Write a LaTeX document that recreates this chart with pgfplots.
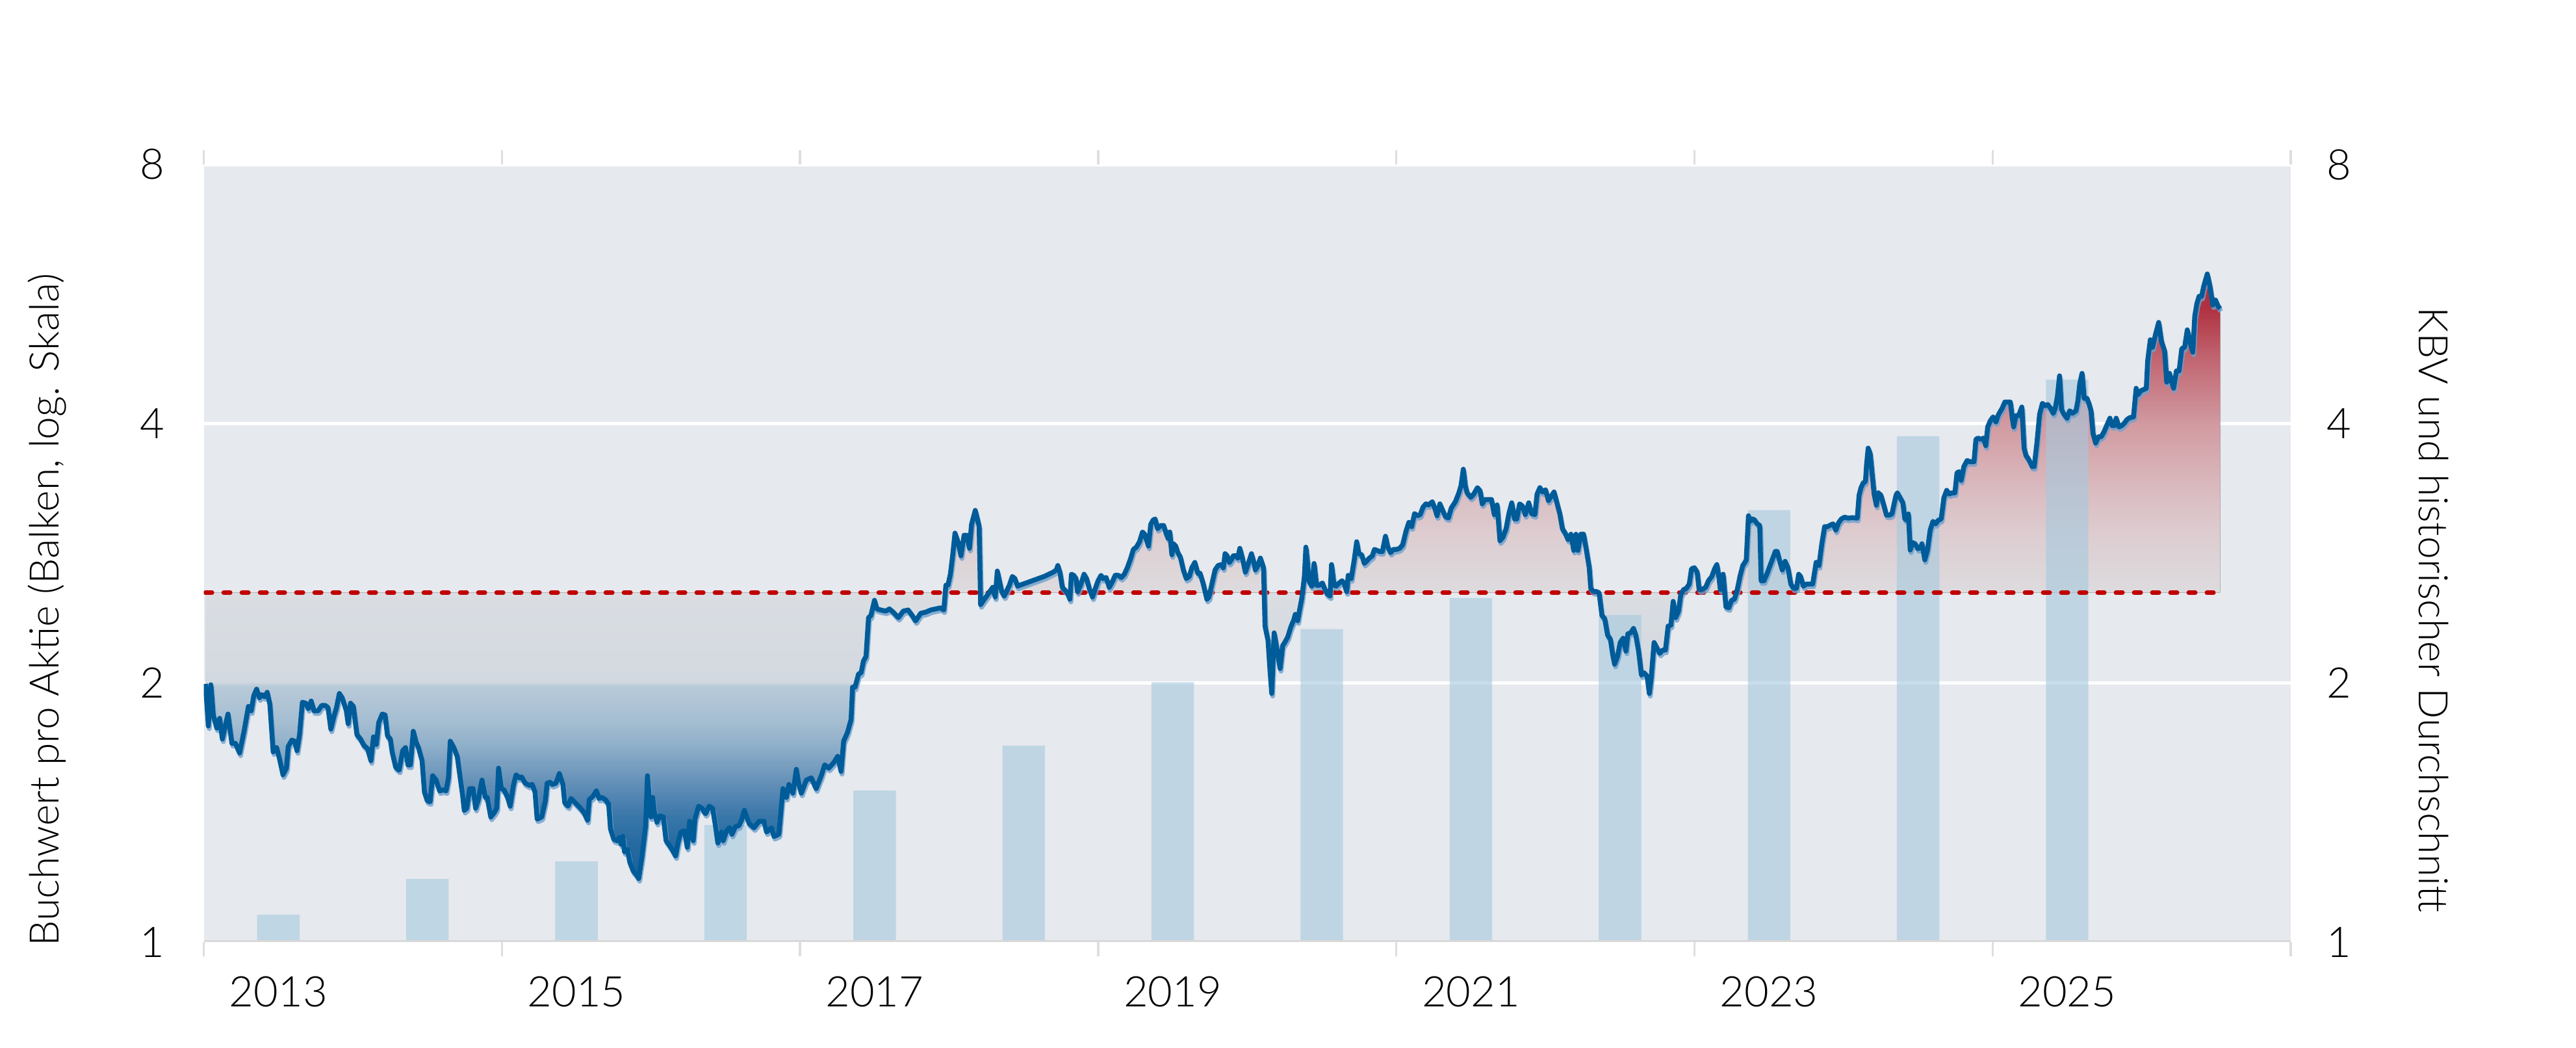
\documentclass[border=0pt]{standalone}
\usepackage{fontspec}
\setmainfont{Lato Light}
\usepackage{pgfplots}
\usepackage{pgfplotstable}
\pgfplotsset{compat=1.18}
\usepgfplotslibrary{fillbetween}

\definecolor{bgc}{RGB}{230,233,237}
\definecolor{barsolid}{RGB}{191,214,228}
\definecolor{barc}{RGB}{165,201,222}
\definecolor{linec}{RGB}{0,91,153}
\definecolor{shadowc}{RGB}{110,160,205}
\definecolor{avgc}{RGB}{192,0,0}
\definecolor{axgray}{RGB}{216,216,216}
\definecolor{tickgray}{RGB}{222,222,222}

\definecolor{s1}{RGB}{30,100,162}
\definecolor{s2}{RGB}{40,112,170}
\definecolor{s3}{RGB}{60,125,178}
\definecolor{s4}{RGB}{95,145,190}
\definecolor{s5}{RGB}{125,166,201}
\definecolor{s6}{RGB}{152,186,213}
\definecolor{s7}{RGB}{173,199,220}
\definecolor{s8}{RGB}{194,213,228}
\definecolor{s9}{RGB}{222,229,236}
\definecolor{s10}{RGB}{229,233,238}
\definecolor{s11}{RGB}{231,234,238}
\definecolor{r1}{RGB}{233,231,234}
\definecolor{r2}{RGB}{233,215,219}
\definecolor{r3}{RGB}{229,194,199}
\definecolor{r4}{RGB}{220,162,169}
\definecolor{r5}{RGB}{203,107,119}
\definecolor{r6}{RGB}{185,53,69}
\definecolor{r7}{RGB}{181,45,61}
\pgfdeclareverticalshading{kbvshade}{100bp}{color(0bp)=(s1); color(25bp)=(s1); color(27.86bp)=(s2); color(30.15bp)=(s3); color(32.29bp)=(s4); color(34.28bp)=(s5); color(36.15bp)=(s6); color(37.92bp)=(s7); color(40.9bp)=(s8); color(41.3bp)=(s9); color(48.08bp)=(s10); color(48.6bp)=(s11); color(48.7bp)=(r1); color(53.61bp)=(r2); color(57.68bp)=(r3); color(62.61bp)=(r4); color(67.99bp)=(r5); color(72.11bp)=(r6); color(75bp)=(r7); color(100bp)=(r7)}

\pgfplotstableread{
x y
2013.011 1.995
2013.030 1.782
2013.047 1.990
2013.063 1.835
2013.087 1.772
2013.106 1.819
2013.124 1.721
2013.162 1.840
2013.188 1.701
2013.212 1.701
2013.240 1.658
2013.271 1.762
2013.299 1.878
2013.318 1.856
2013.335 1.933
2013.354 1.967
2013.373 1.922
2013.389 1.938
2013.408 1.927
2013.425 1.950
2013.443 1.888
2013.465 1.663
2013.488 1.682
2013.507 1.634
2013.531 1.564
2013.554 1.592
2013.566 1.687
2013.590 1.716
2013.609 1.711
2013.625 1.668
2013.642 1.741
2013.661 1.899
2013.684 1.894
2013.701 1.867
2013.720 1.905
2013.739 1.856
2013.767 1.856
2013.791 1.883
2013.814 1.883
2013.833 1.872
2013.852 1.767
2013.873 1.829
2013.890 1.872
2013.909 1.944
2013.928 1.922
2013.956 1.856
2013.968 1.793
2013.984 1.894
2014.003 1.878
2014.027 1.741
2014.051 1.721
2014.074 1.692
2014.098 1.677
2014.121 1.624
2014.138 1.731
2014.157 1.696
2014.173 1.798
2014.197 1.840
2014.216 1.835
2014.232 1.736
2014.251 1.721
2014.263 1.663
2014.287 1.596
2014.310 1.583
2014.334 1.668
2014.353 1.682
2014.369 1.606
2014.386 1.606
2014.405 1.757
2014.424 1.706
2014.440 1.682
2014.464 1.624
2014.480 1.493
2014.499 1.459
2014.518 1.455
2014.535 1.560
2014.558 1.542
2014.582 1.498
2014.606 1.502
2014.625 1.498
2014.641 1.551
2014.653 1.711
2014.677 1.682
2014.700 1.643
2014.736 1.480
2014.747 1.422
2014.764 1.430
2014.783 1.507
2014.806 1.507
2014.823 1.430
2014.842 1.464
2014.866 1.542
2014.889 1.472
2014.901 1.472
2014.925 1.397
2014.948 1.413
2014.965 1.430
2014.977 1.592
2014.996 1.507
2015.014 1.502
2015.038 1.472
2015.055 1.438
2015.078 1.524
2015.095 1.564
2015.118 1.551
2015.132 1.555
2015.156 1.529
2015.185 1.520
2015.203 1.524
2015.222 1.493
2015.236 1.389
2015.267 1.397
2015.291 1.459
2015.303 1.529
2015.322 1.533
2015.338 1.524
2015.362 1.529
2015.385 1.569
2015.409 1.524
2015.421 1.451
2015.444 1.438
2015.463 1.468
2015.492 1.451
2015.527 1.430
2015.551 1.413
2015.574 1.385
2015.586 1.464
2015.610 1.476
2015.633 1.498
2015.652 1.468
2015.669 1.472
2015.692 1.464
2015.716 1.446
2015.728 1.353
2015.751 1.315
2015.775 1.311
2015.787 1.322
2015.799 1.299
2015.810 1.326
2015.822 1.273
2015.841 1.281
2015.858 1.237
2015.881 1.209
2015.905 1.195
2015.917 1.185
2015.940 1.259
2015.964 1.365
2015.976 1.560
2015.988 1.464
2016.000 1.397
2016.011 1.472
2016.023 1.413
2016.040 1.377
2016.058 1.401
2016.082 1.397
2016.101 1.311
2016.118 1.299
2016.141 1.281
2016.165 1.259
2016.181 1.303
2016.200 1.342
2016.224 1.346
2016.243 1.288
2016.259 1.381
2016.283 1.311
2016.295 1.389
2016.319 1.438
2016.342 1.430
2016.366 1.409
2016.390 1.438
2016.413 1.430
2016.432 1.365
2016.448 1.303
2016.472 1.342
2016.484 1.311
2016.507 1.346
2016.526 1.358
2016.543 1.334
2016.566 1.361
2016.590 1.365
2016.607 1.385
2016.626 1.422
2016.658 1.373
2016.691 1.357
2016.725 1.381
2016.758 1.381
2016.775 1.342
2016.808 1.357
2016.825 1.326
2016.858 1.334
2016.885 1.507
2016.908 1.472
2016.925 1.524
2016.952 1.489
2016.975 1.587
2016.992 1.524
2017.008 1.489
2017.042 1.542
2017.075 1.551
2017.108 1.507
2017.142 1.560
2017.165 1.606
2017.192 1.592
2017.225 1.615
2017.252 1.643
2017.275 1.578
2017.292 1.711
2017.318 1.752
2017.342 1.814
2017.352 1.978
2017.369 1.978
2017.392 2.048
2017.409 2.054
2017.425 2.120
2017.442 2.146
2017.459 2.381
2017.475 2.395
2017.499 2.494
2017.515 2.437
2017.542 2.430
2017.575 2.423
2017.599 2.437
2017.625 2.416
2017.659 2.381
2017.692 2.423
2017.725 2.430
2017.752 2.395
2017.775 2.360
2017.809 2.409
2017.842 2.416
2017.876 2.430
2017.909 2.437
2017.942 2.444
2017.964 2.430
2017.978 2.597
2017.992 2.597
2018.008 2.674
2018.024 2.817
2018.039 2.985
2018.059 2.917
2018.079 2.809
2018.100 2.968
2018.120 2.968
2018.136 2.866
2018.150 3.055
2018.175 3.172
2018.191 3.091
2018.201 3.038
2018.211 2.465
2018.231 2.494
2018.252 2.523
2018.272 2.552
2018.292 2.582
2018.309 2.516
2018.323 2.697
2018.337 2.628
2018.353 2.552
2018.370 2.523
2018.390 2.567
2018.404 2.597
2018.424 2.658
2018.441 2.643
2018.459 2.590
2018.475 2.597
2018.516 2.612
2018.576 2.635
2018.637 2.658
2018.698 2.689
2018.719 2.705
2018.729 2.737
2018.743 2.689
2018.759 2.582
2018.779 2.560
2018.796 2.538
2018.810 2.501
2018.820 2.674
2018.836 2.666
2018.851 2.643
2018.861 2.552
2018.881 2.597
2018.891 2.628
2018.905 2.674
2018.922 2.643
2018.942 2.567
2018.962 2.516
2018.978 2.567
2018.999 2.628
2019.019 2.666
2019.033 2.643
2019.053 2.651
2019.074 2.582
2019.094 2.620
2019.114 2.666
2019.135 2.666
2019.155 2.651
2019.175 2.674
2019.195 2.721
2019.216 2.784
2019.236 2.858
2019.256 2.875
2019.277 2.917
2019.297 2.994
2019.311 2.977
2019.323 2.934
2019.337 2.883
2019.352 3.055
2019.368 3.091
2019.382 3.100
2019.398 3.020
2019.419 3.046
2019.439 3.046
2019.455 2.985
2019.469 2.943
2019.480 2.994
2019.494 2.817
2019.506 2.900
2019.520 2.883
2019.534 2.833
2019.551 2.800
2019.571 2.705
2019.591 2.643
2019.611 2.658
2019.628 2.721
2019.648 2.760
2019.668 2.681
2019.683 2.681
2019.703 2.612
2019.717 2.552
2019.729 2.501
2019.743 2.516
2019.764 2.612
2019.784 2.705
2019.804 2.737
2019.825 2.744
2019.839 2.721
2019.851 2.825
2019.865 2.809
2019.880 2.760
2019.896 2.784
2019.906 2.809
2019.926 2.809
2019.936 2.792
2019.950 2.866
2019.967 2.792
2019.987 2.689
2020.007 2.752
2020.028 2.825
2020.042 2.768
2020.054 2.705
2020.068 2.729
2020.088 2.792
2020.109 2.721
2020.119 2.327
2020.139 2.240
2020.153 2.060
2020.164 1.944
2020.180 2.286
2020.200 2.183
2020.220 2.078
2020.237 2.208
2020.251 2.228
2020.271 2.260
2020.291 2.320
2020.312 2.367
2020.322 2.402
2020.338 2.361
2020.352 2.437
2020.366 2.509
2020.383 2.658
2020.393 2.875
2020.403 2.768
2020.413 2.628
2020.433 2.590
2020.448 2.752
2020.464 2.597
2020.484 2.597
2020.504 2.612
2020.521 2.567
2020.535 2.538
2020.555 2.523
2020.565 2.744
2020.582 2.597
2020.596 2.590
2020.616 2.612
2020.636 2.628
2020.651 2.605
2020.667 2.552
2020.677 2.666
2020.697 2.643
2020.717 2.776
2020.734 2.917
2020.748 2.825
2020.768 2.817
2020.785 2.752
2020.799 2.768
2020.819 2.792
2020.839 2.809
2020.853 2.858
2020.870 2.850
2020.890 2.841
2020.906 2.841
2020.927 2.960
2020.941 2.883
2020.961 2.833
2020.981 2.858
2021.002 2.858
2021.022 2.866
2021.042 2.892
2021.065 3.002
2021.084 3.072
2021.103 3.037
2021.122 3.145
2021.141 3.127
2021.160 3.136
2021.179 3.200
2021.198 3.228
2021.217 3.219
2021.241 3.247
2021.260 3.182
2021.273 3.127
2021.292 3.228
2021.311 3.172
2021.330 3.118
2021.349 3.109
2021.368 3.191
2021.396 3.247
2021.419 3.323
2021.434 3.391
2021.449 3.541
2021.462 3.391
2021.475 3.323
2021.500 3.285
2021.519 3.313
2021.544 3.371
2021.562 3.342
2021.576 3.228
2021.595 3.266
2021.619 3.266
2021.638 3.266
2021.657 3.136
2021.676 3.219
2021.695 2.925
2021.714 2.951
2021.736 3.020
2021.755 3.145
2021.774 3.237
2021.793 3.100
2021.808 3.100
2021.827 3.228
2021.846 3.209
2021.865 3.136
2021.888 3.237
2021.907 3.145
2021.929 3.136
2021.944 3.313
2021.963 3.371
2021.982 3.332
2022.001 3.352
2022.020 3.256
2022.039 3.294
2022.058 3.332
2022.077 3.237
2022.096 3.145
2022.114 3.020
2022.133 2.985
2022.152 2.934
2022.171 2.976
2022.190 2.850
2022.205 2.976
2022.218 2.850
2022.237 2.976
2022.256 2.976
2022.275 2.850
2022.294 2.721
2022.304 2.575
2022.322 2.553
2022.341 2.553
2022.360 2.545
2022.379 2.395
2022.398 2.374
2022.417 2.273
2022.436 2.247
2022.451 2.158
2022.464 2.102
2022.483 2.145
2022.502 2.228
2022.521 2.253
2022.540 2.177
2022.553 2.280
2022.572 2.286
2022.591 2.313
2022.606 2.273
2022.625 2.177
2022.644 2.042
2022.663 2.054
2022.682 2.036
2022.697 1.944
2022.710 2.030
2022.729 2.228
2022.748 2.196
2022.767 2.164
2022.786 2.183
2022.805 2.183
2022.823 2.327
2022.842 2.334
2022.857 2.487
2022.874 2.381
2022.893 2.423
2022.908 2.531
2022.927 2.567
2022.946 2.575
2022.965 2.605
2022.980 2.713
2022.999 2.721
2023.018 2.690
2023.031 2.567
2023.050 2.567
2023.075 2.582
2023.094 2.628
2023.116 2.658
2023.135 2.713
2023.150 2.744
2023.164 2.651
2023.173 2.567
2023.183 2.658
2023.192 2.674
2023.211 2.451
2023.230 2.444
2023.249 2.494
2023.268 2.501
2023.287 2.567
2023.305 2.658
2023.324 2.737
2023.347 2.776
2023.362 3.127
2023.377 3.082
2023.390 3.100
2023.404 3.091
2023.419 3.063
2023.438 3.046
2023.447 2.628
2023.466 2.628
2023.485 2.674
2023.504 2.729
2023.523 2.784
2023.542 2.842
2023.555 2.842
2023.570 2.776
2023.589 2.705
2023.608 2.768
2023.627 2.721
2023.646 2.605
2023.665 2.575
2023.684 2.575
2023.699 2.674
2023.712 2.658
2023.731 2.590
2023.750 2.605
2023.768 2.605
2023.793 2.605
2023.816 2.760
2023.835 2.737
2023.854 2.900
2023.873 3.037
2023.892 3.037
2023.920 3.055
2023.930 3.060
2023.948 3.009
2023.967 3.069
2023.985 3.100
2024.007 3.115
2024.031 3.107
2024.058 3.111
2024.092 3.107
2024.104 3.303
2024.117 3.370
2024.132 3.414
2024.147 3.426
2024.154 3.578
2024.165 3.747
2024.178 3.698
2024.191 3.507
2024.205 3.314
2024.220 3.216
2024.233 3.325
2024.251 3.303
2024.270 3.216
2024.288 3.132
2024.306 3.132
2024.325 3.142
2024.337 3.216
2024.352 3.303
2024.361 3.325
2024.380 3.281
2024.398 3.238
2024.411 3.100
2024.425 3.090
2024.435 3.142
2024.447 2.853
2024.462 2.911
2024.480 2.901
2024.499 2.863
2024.517 2.872
2024.526 2.901
2024.545 2.779
2024.563 2.853
2024.581 3.009
2024.600 3.080
2024.618 3.060
2024.636 3.090
2024.655 3.100
2024.673 3.281
2024.692 3.347
2024.710 3.314
2024.728 3.325
2024.747 3.325
2024.761 3.507
2024.774 3.518
2024.789 3.437
2024.807 3.566
2024.829 3.625
2024.847 3.613
2024.875 3.613
2024.888 3.836
2024.902 3.849
2024.921 3.836
2024.939 3.849
2024.954 3.772
2024.967 3.966
2024.985 4.032
2025.003 4.073
2025.022 4.019
2025.036 4.087
2025.049 4.127
2025.064 4.168
2025.082 4.238
2025.101 4.238
2025.119 4.238
2025.132 4.059
2025.141 3.966
2025.156 4.087
2025.174 4.087
2025.196 4.182
2025.211 3.747
2025.224 3.674
2025.242 3.637
2025.266 3.566
2025.279 3.566
2025.297 3.798
2025.315 4.100
2025.334 4.224
2025.352 4.196
2025.370 4.210
2025.389 4.168
2025.407 4.113
2025.420 4.168
2025.435 4.309
2025.449 4.546
2025.462 4.154
2025.480 4.100
2025.499 4.059
2025.517 4.140
2025.536 4.113
2025.559 4.140
2025.572 4.252
2025.585 4.455
2025.600 4.576
2025.614 4.280
2025.633 4.280
2025.646 4.224
2025.660 4.140
2025.673 3.900
2025.691 3.798
2025.710 3.862
2025.728 3.862
2025.747 3.913
2025.765 3.979
2025.787 4.059
2025.802 3.979
2025.816 3.979
2025.829 4.059
2025.847 3.966
2025.866 3.979
2025.884 4.006
2025.902 4.046
2025.921 4.065
2025.945 4.073
2025.963 4.397
2025.976 4.324
2025.994 4.368
2026.013 4.382
2026.031 4.397
2026.040 4.731
2026.058 5.006
2026.073 4.906
2026.092 5.072
2026.114 5.244
2026.132 4.989
2026.154 4.858
2026.168 4.470
2026.187 4.576
2026.202 4.470
2026.214 4.397
2026.233 4.606
2026.251 4.606
2026.269 4.890
2026.288 4.906
2026.306 5.141
2026.324 4.973
2026.343 4.842
2026.356 5.332
2026.370 5.513
2026.385 5.623
2026.402 5.623
2026.416 5.775
2026.440 5.970
2026.458 5.775
2026.477 5.494
2026.495 5.568
2026.513 5.476
2026.526 5.439
}\kbvdata

\begin{document}
\begin{tikzpicture}
\begin{axis}[
  set layers,
  at={(0,0)}, anchor=south west,
  width=642.3pt, height=239.2pt, scale only axis,
  xmin=2013, xmax=2027, ymin=1, ymax=8, ymode=log,
  axis background/.style={fill=bgc},
  axis line style={draw=none},
  ytick={1,2,4,8}, yticklabels={1,2,4,8},
  ymajorgrids, major grid style={white, line width=1pt},
  ytick style={draw=none},
  xtick={2013.5,2015.5,2017.5,2019.5,2021.5,2023.5,2025.5},
  xticklabels={2013,2015,2017,2019,2021,2023,2025},
  major x tick style={draw=none},
  minor xtick={2013,2015,2017,2019,2021,2023,2025,2027},
  minor x tick style={draw=tickgray, line width=0.7pt},
  tick align=outside, major tick length=0pt, minor tick length=4.5pt,
  ticklabel style={font=\fontsize{13pt}{15pt}\selectfont, text=black},
  xticklabel style={yshift=-7pt},
  yticklabel style={xshift=-8.5pt},
]
% annual bars (book value per share) lying under the shaded area
\addplot[on layer=axis grid, ybar, bar width=0.285, bar shift=0pt, fill=barsolid, draw=none] coordinates {
(2013.5,1.076) (2014.5,1.184) (2015.5,1.241) (2016.5,1.367)};

% annual bars seen through the shaded area
\addplot[ybar, bar width=0.285, bar shift=0pt, fill=barc, fill opacity=0.6, draw=none] coordinates {
(2017.5,1.500) (2018.5,1.691) (2019.5,2.003) (2020.5,2.309) (2021.5,2.509)
(2022.5,2.397) (2023.5,3.175) (2024.5,3.867) (2025.5,4.500)};

% historical average
\addplot[name path=avg, avgc, line width=1.4pt, line cap=round, dash pattern=on 2pt off 3.6pt] coordinates {(2013.011,2.545) (2026.526,2.545)};

% P/B line with its light shadow
\addplot[shadowc, line width=1.5pt, line join=round, opacity=0.8, yshift=-0.8pt, xshift=0.3pt] table {\kbvdata};
\addplot[name path=kbv, linec, line width=1.5pt, line join=round] table {\kbvdata};

% shaded area between line and average (pre main layer: under the lines and the later bars)
\addplot[shading=kbvshade, shade, fill opacity=0.95, draw=none] fill between[of=kbv and avg];

\draw[axgray, line width=1pt] (rel axis cs:0,0) -- (rel axis cs:1,0);
\end{axis}

\begin{axis}[
  at={(0,0)}, anchor=south west,
  width=642.3pt, height=239.2pt, scale only axis,
  xmin=2013, xmax=2027, ymin=1, ymax=8, ymode=log,
  axis y line*=right, axis x line=none,
  axis line style={draw=none},
  ytick={1,2,4,8}, yticklabels={1,2,4,8},
  ytick style={draw=none}, major tick length=0pt,
  ticklabel style={font=\fontsize{13pt}{15pt}\selectfont, text=black},
  yticklabel style={xshift=7.5pt},
]
\addplot[draw=none, forget plot] coordinates {(2013,1) (2027,8)};
\end{axis}

\node[rotate=90, font=\fontsize{12.5pt}{15pt}\selectfont] at (-48.2pt,102.2pt) {Buchwert pro Aktie (Balken, log. Skala)};
\node[rotate=-90, font=\fontsize{12.5pt}{15pt}\selectfont] at (686.3pt,102.2pt) {KBV und historischer Durchschnitt};
\path (-62.74pt,-32.6pt) rectangle (730.1pt,289.8pt);
\end{tikzpicture}
\end{document}
